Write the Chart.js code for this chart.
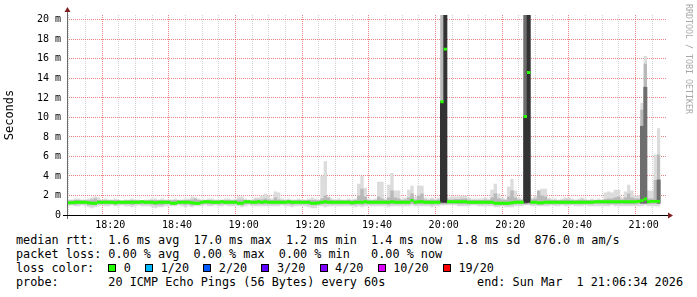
<!DOCTYPE html>
<html>
<head>
<meta charset="utf-8">
<script src="https://cdn.jsdelivr.net/npm/chart.js@4.4.1/dist/chart.umd.min.js"></script>
<style>
html, body { margin: 0; padding: 0; background: #fff; }
#wrap { position: relative; width: 697px; height: 297px; overflow: hidden; font-family: "DejaVu Sans Mono", monospace; color: #000; }
#rtt { position: absolute; left: 0; top: 0; }
#legend { position: absolute; left: 16px; top: 234px; font-size: 11.8px; line-height: 13.9px; white-space: pre; }
#legend .box { display: inline-block; width: 6px; height: 6px; border: 1px solid #000; margin-right: 7.5px; vertical-align: -0.5px; }
#end { position: absolute; right: 14px; top: 275.7px; font-size: 11.8px; line-height: 13.9px; white-space: pre; }
#mark { position: absolute; left: 684px; top: 4px; width: 9px; line-height: 9px; font-size: 8.3px; color: #a8a8a8; writing-mode: vertical-rl; white-space: pre; }
</style>
</head>
<body>
<div id="wrap">
  <canvas id="rtt" width="697" height="232"></canvas>
  <div id="legend"></div>
  <div id="end"></div>
  <div id="mark">RRDTOOL / TOBI OETIKER</div>
</div>
<script>
// one value per minute, first step starts 18:07 (minutes after 18:00)
const firstMinute = 7;

// fastest and slowest of the 20 pings (ms)
const rttMin = [
  0.9,1.0,0.9,0.9,1.0,0.9,0.8,0.7,0.8,0.9,
  1.0,0.9,0.9,1.0,0.9,0.9,1.0,0.9,0.9,0.8,
  0.9,1.0,0.9,0.9,0.9,0.8,0.7,0.8,0.8,0.9,
  0.9,0.9,0.9,1.0,0.9,0.8,0.9,0.8,0.9,0.9,
  0.9,1.0,0.9,0.9,1.0,0.9,0.9,1.0,0.9,0.9,
  0.9,0.9,0.8,0.9,1.0,0.9,0.9,0.9,0.9,0.9,
  0.9,0.9,0.9,0.9,1.0,0.9,0.9,0.8,0.9,0.9,
  0.9,0.9,0.8,0.7,0.7,0.9,0.9,0.8,0.9,0.9,
  0.9,0.9,0.9,0.9,0.9,0.9,0.8,0.9,0.8,0.9,
  0.9,0.9,0.9,0.9,0.9,0.9,0.8,0.9,0.9,0.9,
  0.9,0.9,0.9,1.0,0.9,0.9,0.9,0.9,0.9,0.8,
  0.9,0.9,1.0,1.0,1.0,1.0,1.0,0.9,0.9,0.9,
  0.9,1.0,1.0,0.9,0.9,0.9,0.9,0.9,0.8,0.8,
  0.9,0.8,0.8,0.8,0.9,0.9,0.9,1.0,1.0,0.9,
  0.9,0.9,0.9,0.9,0.9,1.0,0.9,0.9,1.0,0.9,
  0.9,1.0,0.9,0.9,0.9,1.0,0.9,0.9,0.9,0.9,
  0.9,0.9,0.9,1.0,0.9,0.9,0.9,0.9,0.9,0.9,
  0.9,0.9,0.9,1.0,0.9,0.9,0.9,0.9
];
const rttMax = [
  1.6,1.6,1.7,1.7,1.6,1.6,1.7,1.8,1.9,1.8,
  1.6,1.7,1.6,1.6,1.7,1.6,1.5,1.6,1.6,1.7,
  1.6,1.6,1.5,1.6,1.6,1.7,1.7,1.6,1.7,1.6,
  1.6,1.6,1.7,1.6,1.6,1.7,1.7,1.9,1.8,1.7,
  1.6,1.6,1.7,1.7,1.6,1.6,1.6,1.7,1.7,1.6,
  1.7,1.9,1.9,1.7,1.6,1.6,1.8,1.8,2.0,2.2,
  2.0,1.7,2.4,2.3,1.7,1.6,1.7,1.6,1.6,1.7,
  1.6,1.6,1.7,1.8,1.7,1.6,4.0,5.5,1.9,1.7,
  1.6,1.7,1.6,1.6,1.7,1.6,1.7,3.2,4.0,2.8,
  1.7,1.6,1.7,3.4,3.4,1.7,3.1,4.3,2.5,2.5,
  1.7,1.8,2.6,3.0,1.9,3.0,3.0,1.8,1.7,1.8,
  1.7,1.8,20.5,20.5,1.8,1.9,1.9,1.9,2.0,2.0,
  1.8,1.7,1.7,1.7,1.7,1.8,1.7,2.6,3.2,2.2,
  1.8,1.7,2.9,3.7,2.5,1.8,1.7,20.5,20.5,1.8,
  2.0,2.5,2.7,2.7,1.8,1.7,1.7,1.6,1.7,1.8,
  1.8,1.7,1.6,1.7,1.8,1.7,1.6,1.7,1.6,1.7,
  1.6,2.3,2.4,2.3,2.6,2.6,1.8,2.4,3.1,2.5,
  2.0,2.0,11.5,16.3,2.5,2.5,6.2,8.9
];

// inner smoke band (ms)
const rttLow = [
  1.1,1.1,1.05,1.1,1.1,1.1,1.0,1.0,1.0,1.1,
  1.1,1.1,1.1,1.1,1.05,1.1,1.1,1.1,1.1,1.05,
  1.1,1.1,1.1,1.1,1.1,1.05,1.0,1.0,1.0,1.1,
  1.1,1.05,1.05,1.1,1.1,1.05,1.1,1.0,1.05,1.05,
  1.1,1.15,1.1,1.1,1.1,1.1,1.1,1.1,1.1,1.1,
  1.1,1.05,1.0,1.1,1.15,1.1,1.1,1.1,1.1,1.1,
  1.1,1.1,1.1,1.1,1.1,1.1,1.1,1.05,1.1,1.1,
  1.1,1.1,1.05,1.0,1.0,1.05,1.1,1.1,1.1,1.1,
  1.1,1.1,1.1,1.1,1.1,1.05,1.05,1.1,1.05,1.1,
  1.1,1.1,1.1,1.1,1.1,1.1,1.05,1.1,1.1,1.1,
  1.1,1.1,1.1,1.15,1.1,1.1,1.1,1.1,1.1,1.05,
  1.1,1.1,1.1,1.1,1.15,1.15,1.15,1.1,1.1,1.1,
  1.1,1.1,1.1,1.1,1.1,1.1,1.1,1.1,1.0,1.0,
  1.0,1.0,1.0,1.05,1.1,1.1,1.1,1.1,1.1,1.1,
  1.1,1.05,1.05,1.1,1.1,1.1,1.1,1.1,1.1,1.1,
  1.1,1.1,1.1,1.1,1.1,1.1,1.1,1.1,1.15,1.15,
  1.15,1.15,1.1,1.15,1.1,1.1,1.15,1.1,1.1,1.1,
  1.1,1.15,1.2,1.2,1.15,1.15,1.15,1.15
];
const rttHigh = [
  1.5,1.5,1.55,1.55,1.5,1.5,1.5,1.6,1.7,1.55,
  1.5,1.55,1.5,1.5,1.55,1.5,1.45,1.5,1.5,1.55,
  1.5,1.5,1.5,1.5,1.5,1.55,1.55,1.5,1.55,1.5,
  1.5,1.5,1.55,1.5,1.5,1.55,1.55,1.6,1.7,1.55,
  1.5,1.55,1.55,1.55,1.5,1.5,1.55,1.55,1.55,1.5,
  1.55,1.6,1.6,1.55,1.55,1.5,1.6,1.6,1.6,1.7,
  1.6,1.55,1.8,1.6,1.55,1.5,1.55,1.5,1.5,1.55,
  1.5,1.5,1.55,1.55,1.55,1.5,1.7,2.0,1.8,1.55,
  1.5,1.55,1.5,1.5,1.55,1.5,1.55,2.0,2.7,1.9,
  1.55,1.5,1.55,1.9,1.7,1.55,1.8,2.5,1.8,1.7,
  1.55,1.6,1.8,2.2,1.6,2.0,2.2,1.6,1.55,1.6,
  1.55,1.6,20.5,20.5,1.6,1.6,1.65,1.65,1.7,1.7,
  1.6,1.55,1.55,1.55,1.55,1.6,1.55,1.8,2.2,1.7,
  1.6,1.55,1.9,2.5,1.8,1.6,1.55,20.5,20.5,1.6,
  1.7,2.5,2.0,1.9,1.6,1.55,1.55,1.5,1.55,1.6,
  1.6,1.55,1.5,1.55,1.6,1.55,1.5,1.55,1.5,1.55,
  1.5,1.65,1.7,1.7,1.8,1.9,1.6,1.8,2.2,1.8,
  1.7,1.7,10.8,15.5,1.7,1.7,3.6,6.2
];

// median rtt (ms)
const rttMedian = [
  1.25,1.25,1.3,1.3,1.3,1.3,1.25,1.2,1.2,1.3,
  1.3,1.3,1.3,1.3,1.25,1.3,1.3,1.3,1.3,1.3,
  1.3,1.3,1.35,1.3,1.3,1.3,1.25,1.3,1.3,1.3,
  1.3,1.2,1.2,1.3,1.3,1.3,1.3,1.25,1.2,1.2,
  1.3,1.35,1.35,1.3,1.3,1.3,1.35,1.3,1.3,1.3,
  1.3,1.2,1.2,1.35,1.35,1.3,1.3,1.35,1.3,1.35,
  1.3,1.3,1.3,1.3,1.3,1.3,1.35,1.3,1.3,1.3,
  1.3,1.3,1.3,1.2,1.2,1.25,1.3,1.35,1.3,1.3,
  1.3,1.3,1.3,1.3,1.3,1.25,1.3,1.3,1.3,1.35,
  1.3,1.3,1.3,1.3,1.3,1.3,1.3,1.35,1.3,1.3,
  1.3,1.3,1.3,1.5,1.3,1.35,1.35,1.3,1.3,1.3,
  1.3,1.3,11.6,17.0,1.35,1.35,1.35,1.35,1.35,1.35,
  1.3,1.3,1.3,1.3,1.3,1.3,1.3,1.3,1.2,1.2,
  1.2,1.2,1.2,1.25,1.3,1.3,1.3,10.1,14.6,1.3,
  1.3,1.25,1.25,1.3,1.3,1.3,1.3,1.3,1.3,1.3,
  1.3,1.3,1.3,1.3,1.3,1.3,1.3,1.3,1.35,1.35,
  1.35,1.35,1.35,1.35,1.35,1.35,1.35,1.35,1.35,1.35,
  1.35,1.4,1.47,1.64,1.35,1.4,1.4,1.4
];

// darker smoke, only where it shows (minute after 18:00, low, high)
const midMinutes = [144, 179, 180, 184];
const midLow     = [1.2, 1.2, 1.2, 1.2];
const midHigh    = [20.5, 9.1, 13.1, 3.6];
const coreMinutes = [119, 120, 144, 145];
const coreLow     = [1.3, 1.3, 1.3, 1.3];
const coreHigh    = [11.6, 20.5, 10.1, 20.5];

// axis labels
const xTickLabels = ['18:20', '18:40', '19:00', '19:20', '19:40', '20:00', '20:20', '20:40', '21:00'];
const yTickLabels = ['0', '2 m', '4 m', '6 m', '8 m', '10 m', '12 m', '14 m', '16 m', '18 m', '20 m'];

// legend
const lossLabels = ['0', '1/20', '2/20', '3/20', '4/20', '10/20', '19/20'];
const lossColors = ['#26ff00', '#00b8ff', '#0059ff', '#5e00ff', '#7e00ff', '#dd00ff', '#ff0000'];
const legendLines = [
  'median rtt:  1.6 ms avg  17.0 ms max  1.2 ms min  1.4 ms now  1.8 ms sd  876.0 m am/s',
  'packet loss: 0.00 % avg  0.00 % max  0.00 % min   0.00 % now'
];
const probeLine = 'probe:       20 ICMP Echo Pings (56 Bytes) every 60s';
const endLine = 'end: Sun Mar  1 21:06:34 2026';

const RED = 'rgba(222, 48, 48, 0.6)';
const GRAY = 'rgba(150, 150, 150, 0.42)';

// stepped series: each value holds for one minute
const steps = (arr) => {
  const pts = arr.map((v, i) => ({ x: firstMinute + i, y: v }));
  pts.push({ x: firstMinute + arr.length, y: arr[arr.length - 1] });
  return pts;
};
const bars = (mins, lo, hi) => mins.map((m, i) => ({ x: m + 0.5, y: [lo[i], hi[i]] }));

const lineBase = { type: 'line', stepped: true, pointRadius: 0, borderWidth: 0, borderColor: 'transparent' };
const barBase = { type: 'bar', grouped: false, barPercentage: 1, categoryPercentage: 1, borderWidth: 0 };

const toMinute = (t) => { const [h, m] = t.split(':').map(Number); return (h - 18) * 60 + m; };
const labelAt = {};
xTickLabels.forEach(t => { labelAt[toMinute(t)] = t; });

const xGrid = [];
for (let m = 10; m <= 185; m += 5) xGrid.push(m);
const yGrid = [];
for (let v = 0; v <= 20; v++) yGrid.push(v);

const axisArrows = {
  id: 'axisArrows',
  afterDraw(chart) {
    const { ctx, chartArea: a } = chart;
    ctx.save();
    ctx.lineWidth = 1;
    ctx.strokeStyle = '#6a6a6a';
    ctx.beginPath();
    ctx.moveTo(a.left + 0.5, a.bottom + 4);
    ctx.lineTo(a.left + 0.5, a.top - 3);
    ctx.stroke();
    ctx.strokeStyle = '#000';
    ctx.beginPath();
    ctx.moveTo(a.left - 4, a.bottom + 0.5);
    ctx.lineTo(a.right + 1, a.bottom + 0.5);
    ctx.stroke();
    ctx.fillStyle = '#7f1f1f';
    ctx.beginPath();
    ctx.moveTo(a.right + 1, a.bottom - 2.5);
    ctx.lineTo(a.right + 6, a.bottom + 0.5);
    ctx.lineTo(a.right + 1, a.bottom + 3.5);
    ctx.fill();
    ctx.beginPath();
    ctx.moveTo(a.left - 2.5, a.top - 3);
    ctx.lineTo(a.left + 0.5, a.top - 8);
    ctx.lineTo(a.left + 3.5, a.top - 3);
    ctx.fill();
    ctx.restore();
  }
};

Chart.defaults.font.family = '"DejaVu Sans Mono", monospace';

const ctx = document.getElementById('rtt').getContext('2d');
new Chart(ctx, {
  type: 'line',
  data: {
    datasets: [
      { ...lineBase, data: steps(rttMin), order: 10 },
      { ...lineBase, data: steps(rttMax), fill: '-1', backgroundColor: '#dcdcdc', order: 10 },
      { ...lineBase, data: steps(rttLow), order: 9 },
      { ...lineBase, data: steps(rttHigh), fill: '-1', backgroundColor: '#b8b8b8', order: 9 },
      { ...barBase, data: bars(midMinutes, midLow, midHigh), backgroundColor: '#6e6e6e', order: 8 },
      { ...barBase, data: bars(coreMinutes, coreLow, coreHigh), backgroundColor: '#333333', order: 7 },
      { ...lineBase, data: steps(rttMedian.map(v => v - 0.15)), order: 6 },
      { ...lineBase, data: steps(rttMedian.map(v => v + 0.15)), fill: '-1', backgroundColor: '#26ff00', order: 6 }
    ]
  },
  options: {
    responsive: false,
    devicePixelRatio: 1,
    animation: false,
    layout: { padding: { top: 15, right: 30, left: 0, bottom: 0 } },
    plugins: { legend: { display: false }, tooltip: { enabled: false } },
    scales: {
      x: {
        type: 'linear',
        min: firstMinute,
        max: firstMinute + 180,
        offset: false,
        afterBuildTicks: (s) => { s.ticks = xGrid.map(v => ({ value: v })); },
        afterFit: (s) => { s.height = 17; },
        ticks: {
          autoSkip: false, maxRotation: 0, padding: 4, color: '#000', font: { size: 10 },
          callback: (v) => labelAt[v] || ''
        },
        grid: {
          drawTicks: false, lineWidth: 1,
          color: (c) => (c.tick && c.tick.value % 20 === 0) ? RED : GRAY
        },
        border: { display: false, dash: [1, 1] }
      },
      y: {
        min: 0,
        max: 20.5,
        afterBuildTicks: (s) => { s.ticks = yGrid.map(v => ({ value: v })); },
        afterFit: (s) => { s.width = 67; },
        ticks: {
          padding: 6, color: '#000', font: { size: 10 },
          callback: (v) => (v % 2 === 0 ? yTickLabels[v / 2] : '')
        },
        grid: {
          drawTicks: false, lineWidth: 1,
          color: (c) => {
            const v = c.tick ? c.tick.value : 1;
            if (v === 0) return 'transparent';
            return v % 2 === 0 ? RED : GRAY;
          }
        },
        border: { display: false, dash: [1, 1] },
        title: {
          display: true, text: 'Seconds', color: '#000',
          font: { size: 12 }, padding: { top: 3, bottom: 0 }
        }
      }
    }
  },
  plugins: [axisArrows]
});

// text legend under the graph
const legend = document.getElementById('legend');
let html = legendLines.join('\n') + '\nloss color:  ';
lossLabels.forEach((l, i) => {
  html += '<span class="box" style="background:' + lossColors[i] + '"></span>' + l + '  ';
});
html += '\n' + probeLine;
legend.innerHTML = html;
document.getElementById('end').textContent = endLine;
</script>
</body>
</html>
